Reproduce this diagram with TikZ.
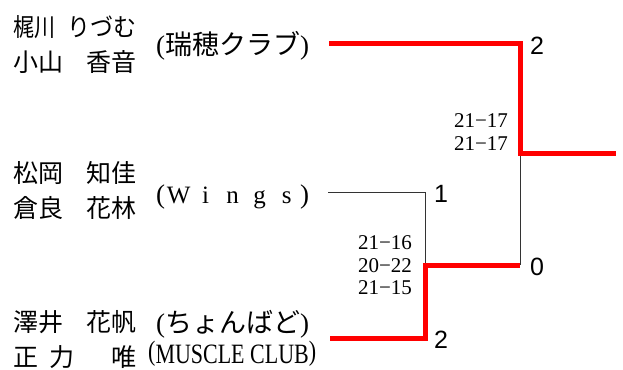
\documentclass[tikz,border=0pt]{standalone}
\usepackage{fontspec}
\setmainfont{Liberation Serif}
\newfontfamily\jp{Noto Sans CJK JP}
\newfontfamily\numfont{Liberation Sans}
\newcommand{\cjkclub}[1]{{\fontsize{27}{27}\selectfont(}{\jp\fontsize{27}{27}\selectfont #1}{\fontsize{27}{27}\selectfont)}}
\newcommand{\cell}[1]{\makebox[27pt]{#1}}
\begin{document}
\begin{tikzpicture}[x=1pt,y=-1pt,
  player/.style={inner sep=0pt,font=\jp\fontsize{25}{25}\selectfont},
  club/.style={anchor=base west,inner sep=0pt},
  score/.style={anchor=base,inner sep=0pt,font=\fontsize{21}{21}\selectfont},
  result/.style={anchor=base,inner sep=0pt,font=\numfont\fontsize{25}{25}\selectfont},
  win/.style={red,line width=5pt,line join=miter},
  lose/.style={black!80,line width=1pt}]
\useasboundingbox (0,0) rectangle (623,369);
% players
\node[player,anchor=west] (p1s) at (13,27) {\scalebox{0.84}[1]{梶川}};
\node[player,anchor=east] (p1g) at (137,27) {\scalebox{0.92}[1]{りづむ}};
\node[player,anchor=west] (p2s) at (13,62) {小山};
\node[player,anchor=east] (p2g) at (137,62) {香音};
\node[player,anchor=west] (p3s) at (13,173) {松岡};
\node[player,anchor=east] (p3g) at (137,173) {知佳};
\node[player,anchor=west] (p4s) at (13,208) {倉良};
\node[player,anchor=east] (p4g) at (137,208) {花林};
\node[player,anchor=west] (p5s) at (13,322) {澤井};
\node[player,anchor=east] (p5g) at (137,322) {花帆};
\node[player,anchor=west] (p6s) at (13,357) {正\hspace{0.45em}力};
\node[player,anchor=east] (p6g) at (137,357) {唯};
% clubs
\node[club] (c1) at (156,55) {\cjkclub{瑞穂クラブ}};
\node[club] (c2) at (156,203) {{\fontsize{27}{27}\selectfont(}{\fontsize{25}{25}\selectfont\cell{W}\cell{i}\cell{n}\cell{g}\cell{s}}{\fontsize{27}{27}\selectfont)}};
\node[club] (c3) at (156,332) {\cjkclub{ちょんばど}};
\node[club] (c4) at (148,363) {\scalebox{0.785}[1]{\fontsize{28}{28}\selectfont\raisebox{3pt}{(}MUSCLE CLUB\raisebox{3pt}{)}}};
% bracket coordinates
\coordinate (a0) at (329,44);
\coordinate (a1) at (520,44);
\coordinate (a2) at (520,153);
\coordinate (a3) at (616,153);
\coordinate (b0) at (328,192);
\coordinate (b1) at (425,192);
\coordinate (b2) at (425,265);
\coordinate (d0) at (330,338);
\coordinate (d1) at (425,338);
\coordinate (e1) at (520,265);
% losers
\draw[lose] (b0) -- (b1) -- (b2);
\draw[lose] (a2) -- (e1);
% winners
\draw[win] (a0) -- (a1) -- (a2) -- (a3);
\draw[win] (d0) -- (d1) -- (b2) -- (e1);
% results
\node[result] (r1) at (537,55) {2};
\node[result] (r2) at (441,202) {1};
\node[result] (r3) at (537,275) {0};
\node[result] (r4) at (441,348) {2};
% scores
\node[score] (s1) at (481,127) {21−17};
\node[score] (s2) at (481,150) {21−17};
\node[score] (s3) at (385,249) {21−16};
\node[score] (s4) at (385,272) {20−22};
\node[score] (s5) at (385,294) {21−15};
\end{tikzpicture}
\end{document}
